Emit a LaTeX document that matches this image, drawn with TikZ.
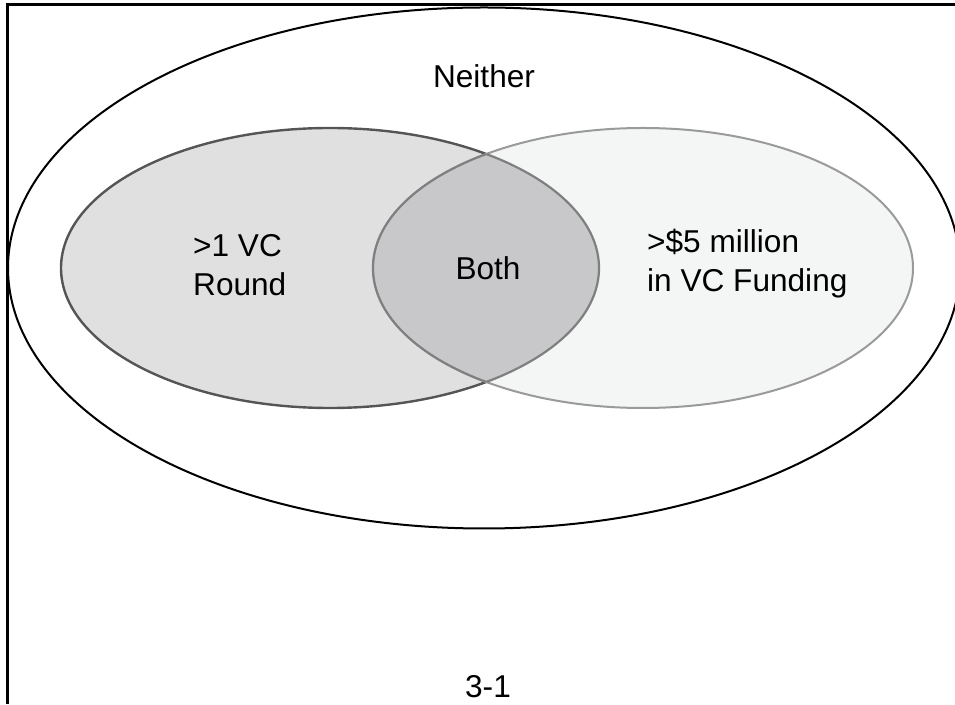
\documentclass[tikz,border=0pt]{standalone}
\usepackage{fontspec}
\setmainfont{Liberation Sans}
\definecolor{leftfill}{HTML}{E0E0E0}
\definecolor{leftline}{HTML}{555555}
\definecolor{rightfill}{HTML}{F4F5F5}
\definecolor{rightline}{HTML}{9A9A9A}
\definecolor{bothfill}{HTML}{C8C8CA}
\definecolor{bothline}{HTML}{7F7F7F}
\tikzset{
  lbl/.style={font=\fontsize{31.6}{39}\selectfont, inner sep=0pt, text=black},
  frameline/.style={line width=3pt, line join=miter},
}
\begin{document}
\begin{tikzpicture}[x=1pt,y=1pt]
\useasboundingbox (0,0) rectangle (955,704);
% frame
\coordinate (fb) at (7.5,0);
\coordinate (fc) at (7.5,699.5);
\coordinate (fr) at (958,699.5);
\draw[frameline] (fb) -- (fc) -- (fr);
% outer ellipse
\draw[line width=2pt, black] (484,436) ellipse [x radius=476, y radius=260.5];
% left set
\draw[fill=leftfill, draw=leftline, line width=2.4pt] (330,436) ellipse [x radius=269, y radius=140];
% right set
\draw[fill=rightfill, draw=rightline, line width=2pt] (643,436) ellipse [x radius=270, y radius=140];
% intersection
\begin{scope}
  \clip (330,436) ellipse [x radius=269, y radius=140];
  \fill[bothfill] (643,436) ellipse [x radius=270, y radius=140];
  \draw[bothline, line width=2.2pt] (643,436) ellipse [x radius=270, y radius=140];
\end{scope}
\begin{scope}
  \clip (643,436) ellipse [x radius=270, y radius=140];
  \draw[bothline, line width=2.2pt] (330,436) ellipse [x radius=269, y radius=140];
\end{scope}
% labels
\node[lbl, anchor=base] (neither) at (484,616) {Neither};
\node[lbl, anchor=base] (both) at (488,424) {Both};
\node[lbl, anchor=base west, align=left] (round) at (193,408) {>1 VC\\Round};
\node[lbl, anchor=base west, align=left] (funding) at (647,412) {>\$5 million\\in VC Funding};
\node[lbl, anchor=base] (fig) at (488,7) {3-1};
\end{tikzpicture}
\end{document}
